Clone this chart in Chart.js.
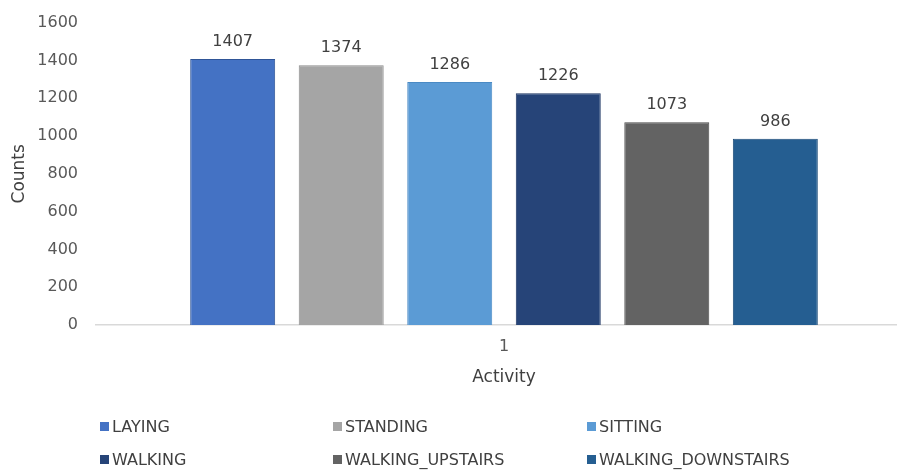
<!DOCTYPE html>
<html>
<head>
<meta charset="utf-8">
<script src="https://cdn.jsdelivr.net/npm/chart.js@4"></script>
<style>
    html, body { margin: 0; padding: 0; background: #fff; overflow: hidden; width: 897px; height: 470px; }
    #wrap { position: absolute; left: 0; top: -5px; width: 912px; height: 400px; }
    #legend { position: absolute; left: 0; top: 0; width: 897px; height: 470px; pointer-events: none;
              font-family: "DejaVu Sans", sans-serif; font-size: 16px; color: #404040; }
    .item { position: absolute; white-space: nowrap; line-height: 18px; }
    .box { display: inline-block; width: 9px; height: 9px; margin-right: 3px; vertical-align: 1px; }
</style>
</head>
<body>
<div id="wrap"><canvas id="chart" width="912" height="400"></canvas></div>
<div id="legend"></div>
<script>
// Data
const categories = ['1'];
const activities = ['LAYING', 'STANDING', 'SITTING', 'WALKING', 'WALKING_UPSTAIRS', 'WALKING_DOWNSTAIRS'];
const counts = [1407, 1374, 1286, 1226, 1073, 986];
const yTicks = [0, 200, 400, 600, 800, 1000, 1200, 1400, 1600];

// Styles
const fillColors = ['#4472c4', '#a5a5a5', '#5b9bd5', '#264478', '#636363', '#255e91'];
const edgeColors = ['#2f5597', '#8c8c8c', '#4a8ac4', '#1a3260', '#4a4a4a', '#1a4a78'];
const FONT = '"DejaVu Sans", sans-serif';

// Value labels above each bar
const valueLabels = {
    id: 'valueLabels',
    afterDatasetsDraw(chart) {
        const ctx = chart.ctx;
        ctx.save();
        ctx.font = '16px ' + FONT;
        ctx.fillStyle = '#404040';
        ctx.textAlign = 'center';
        ctx.textBaseline = 'alphabetic';
        chart.data.datasets.forEach((ds, i) => {
            const bar = chart.getDatasetMeta(i).data[0];
            ctx.fillText(String(ds.data[0]), bar.x, bar.y - 13);
        });
        ctx.restore();
    }
};

const chart = new Chart(document.getElementById('chart').getContext('2d'), {
    type: 'bar',
    data: {
        labels: categories,
        datasets: activities.map((name, i) => ({
            label: name,
            data: [counts[i]],
            backgroundColor: fillColors[i],
            borderColor: edgeColors[i],
            borderWidth: 1,
            categoryPercentage: 0.798,
            barPercentage: 0.783
        }))
    },
    options: {
        responsive: false,
        animation: false,
        layout: { padding: { top: 10, right: 0, bottom: 0, left: 0 } },
        plugins: {
            legend: { display: false },
            tooltip: { enabled: false }
        },
        scales: {
            x: {
                grid: { display: false, drawTicks: false },
                border: { display: true, color: '#d9d9d9', width: 1.5 },
                ticks: { color: '#595959', font: { family: FONT, size: 16 }, padding: 12 },
                title: {
                    display: true,
                    text: 'Activity',
                    color: '#404040',
                    font: { family: FONT, size: 17 },
                    padding: { top: 0, bottom: 7 }
                },
                afterFit: (scale) => { scale.height = 70; }
            },
            y: {
                min: 0,
                max: 1600,
                afterBuildTicks: (scale) => { scale.ticks = yTicks.map(v => ({ value: v })); },
                grid: { display: false, drawTicks: false },
                border: { display: false },
                ticks: {
                    color: '#595959',
                    font: { family: FONT, size: 16 },
                    padding: 18,
                    callback: (value) => String(value)
                },
                title: {
                    display: true,
                    text: 'Counts',
                    color: '#404040',
                    font: { family: FONT, size: 17 },
                    padding: { top: 9, bottom: 0 }
                },
                afterFit: (scale) => { scale.width = 96; }
            }
        }
    },
    plugins: [valueLabels]
});

// Legend: 3 columns x 2 rows, like the original
const legendCols = [100, 333, 587];
const legendRows = [418, 451];
const legend = document.getElementById('legend');
activities.forEach((name, i) => {
    const el = document.createElement('div');
    el.className = 'item';
    el.style.left = legendCols[i % 3] + 'px';
    el.style.top = legendRows[Math.floor(i / 3)] + 'px';
    el.innerHTML = '<span class="box" style="background:' + fillColors[i] + '"></span>' + name;
    legend.appendChild(el);
});
</script>
</body>
</html>
